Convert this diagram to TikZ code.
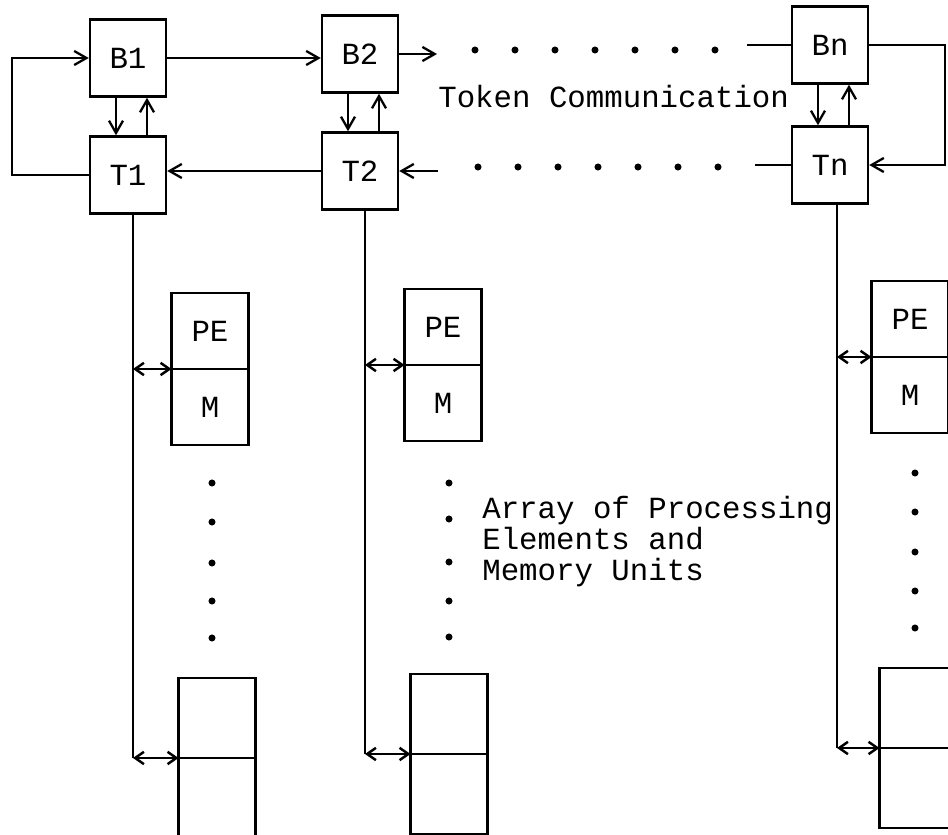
\documentclass[tikz,border=0pt]{standalone}
\usepackage{fontspec}
\setmainfont{Liberation Mono}
\usetikzlibrary{positioning,arrows.meta}

\begin{document}
\begin{tikzpicture}[x=0.02cm, y=-0.02cm,
    every node/.style={font=\fontsize{17.5}{17.6}\selectfont},
    box/.style={draw, line width=1.4pt, minimum width=1.52cm, minimum height=1.54cm, inner sep=0pt},
    cell/.style={box, outer sep=0pt, minimum width=1.54cm, minimum height=1.52cm},
    wire/.style={line width=1.4pt},
    arr/.style={wire, -{Straight Barb[length=7pt, width=8pt, line width=1.3pt]}},
    bi/.style={wire, {Straight Barb[length=5pt, width=7pt]}-{Straight Barb[length=5pt, width=7pt]}},
  ]
  \useasboundingbox (0,0) rectangle (948,835);
  \clip (0,0) rectangle (948,835);

  % Token ring
  \node[box] (b1) at (128,58)  {B1};
  \node[box] (t1) at (128,175) {T1};
  \node[box] (b2) at (360,54)  {B2};
  \node[box] (t2) at (360,171) {T2};
  \node[box] (bn) at (830,45)  {Bn};
  \node[box] (tn) at (830,165) {Tn};

  \coordinate (b2out) at (437,54);
  \coordinate (t2in)  at (438,171);
  \coordinate (bnin)  at (747,45);
  \coordinate (tnout) at (755,165);

  \draw[arr] (b1.east) -- (b1.east -| b2.west);
  \draw[arr] (b2.east) -- (b2out);
  \draw[wire] (bnin) -- (bn.west);
  \draw[arr] (t2in) -- (t2.east);
  \draw[arr] (t2.west) -- (t2.west -| t1.east);
  \draw[wire] (tnout) -- (tn.west);
  \draw[arr] (t1.west) -- ++(-77,0) |- (b1.west);
  \draw[arr] (bn.east) -- ++(76,0) |- (tn.east);

  \foreach \b/\t in {b1/t1, b2/t2, bn/tn} {
    \draw[arr] ([xshift=-0.24cm]\b.south) -- ([xshift=-0.24cm]\t.north);
    \draw[arr] ([xshift=0.38cm]\t.north) -- ([xshift=0.38cm]\b.south);
  }

  % dotted gaps
  \foreach \x in {475,515,...,715} {
    \fill (\x,50) circle (2pt);
    \fill (\x+3,167) circle (2pt);
  }

  \node[anchor=base west, inner sep=0pt] (tok) at (438,108) {Token Communication};

  % PE and memory units
  \node[cell] (pe1) at (210,331) {PE};
  \node[cell, below=0pt of pe1] (m1) {M};
  \node[cell] (pe2) at (443,327) {PE};
  \node[cell, below=0pt of pe2] (m2) {M};
  \node[cell] (pen) at (910,319) {PE};
  \node[cell, below=0pt of pen] (mn) {M};

  \node[cell, minimum height=1.6cm] (u1) at (217,718) {};
  \node[cell, minimum height=1.6cm, below=0pt of u1] (v1) {};
  \node[cell, minimum height=1.6cm] (u2) at (449,714) {};
  \node[cell, minimum height=1.6cm, below=0pt of u2] (v2) {};
  \node[cell, minimum height=1.6cm] (un) at (918,708) {};
  \node[cell, minimum height=1.6cm, below=0pt of un] (vn) {};

  % buses
  \coordinate (bus1) at (133,0);
  \coordinate (bus2) at (365,0);
  \coordinate (busn) at (837,0);
  \foreach \t/\bus/\c in {1/bus1/1, 2/bus2/2, n/busn/n} {
    \draw[wire] (t\t.south -| \bus) -- (\bus |- v\c.north);
    \draw[bi] (\bus |- m\c.north) -- (m\c.north west);
    \draw[bi] (\bus |- v\c.north) -- (v\c.north west);
  }

  % column dots
  \foreach \y in {483,522,563,601,638} \fill (212,\y) circle (2pt);
  \foreach \y in {483,519,562,601,637} \fill (449,\y) circle (2pt);
  \foreach \y in {473,512,552,591,628} \fill (915,\y) circle (2pt);

  \node[anchor=base west, align=left, inner sep=0pt] (pelabel) at (482,580)
    {Array of Processing\\Elements and\\Memory Units};
\end{tikzpicture}
\end{document}
